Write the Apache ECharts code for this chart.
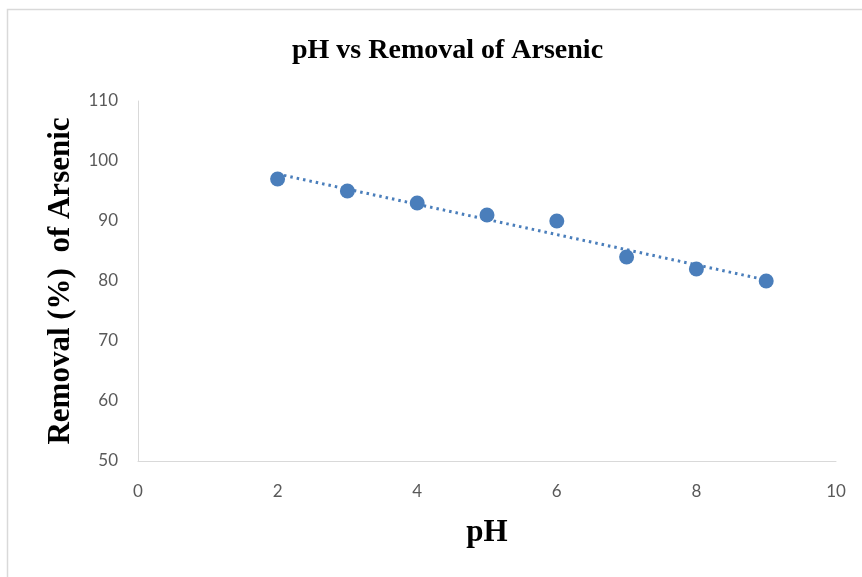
<!DOCTYPE html>
<html>
<head>
<meta charset="utf-8">
<script src="https://cdn.jsdelivr.net/npm/echarts@6/dist/echarts.min.js"></script>
<style>html,body{margin:0;padding:0;background:#fff}#c{width:862px;height:577px}</style>
</head>
<body>
<div id="c"></div>
<script>
const pH = [2, 3, 4, 5, 6, 7, 8, 9];
const removal = [97, 95, 93, 91, 90, 84, 82, 80];
const xTicks = [0, 2, 4, 6, 8, 10];
const yTicks = [50, 60, 70, 80, 90, 100, 110];

// linear trendline (least squares) from the data
const n = pH.length;
const mx = pH.reduce((a, b) => a + b, 0) / n;
const my = removal.reduce((a, b) => a + b, 0) / n;
let sxy = 0, sxx = 0;
for (let i = 0; i < n; i++) { sxy += (pH[i] - mx) * (removal[i] - my); sxx += (pH[i] - mx) ** 2; }
const slope = sxy / sxx, icpt = my - slope * mx;
const xs = [pH[0], pH[n - 1]];
const trend = xs.map(x => [x, icpt + slope * x]);

const chart = echarts.init(document.getElementById('c'));
chart.setOption({
  animation: false,
  graphic: [{ type: 'rect', shape: { x: 7.5, y: 9.5, width: 900, height: 600 }, style: { fill: 'none', stroke: '#d9d9d9', lineWidth: 1.5 }, silent: true }],
  title: {
    text: 'pH vs Removal of Arsenic', left: 287, top: 32,
    textStyle: { fontFamily: 'Liberation Serif', fontWeight: 'bold', fontSize: 28, color: '#000' }
  },
  grid: { left: 138, right: 26, top: 101, bottom: 116 },
  xAxis: {
    type: 'value', min: xTicks[0], max: xTicks[xTicks.length - 1], interval: 2,
    name: 'pH', nameLocation: 'middle', nameGap: 56,
    nameTextStyle: { fontFamily: 'Liberation Serif', fontWeight: 'bold', fontSize: 31, color: '#000' },
    axisLine: { lineStyle: { color: '#d9d9d9', width: 1 } },
    axisTick: { show: false }, splitLine: { show: false },
    axisLabel: { color: '#595959', fontSize: 17, fontFamily: 'Lato', margin: 22 }
  },
  yAxis: {
    type: 'value', min: yTicks[0], max: yTicks[yTicks.length - 1], interval: 10,
    name: 'Removal (%)  of Arsenic', nameLocation: 'middle', nameGap: 62, nameRotate: 90,
    nameTextStyle: { fontFamily: 'Liberation Serif', fontWeight: 'bold', fontSize: 31, color: '#000' },
    axisLine: { show: true, lineStyle: { color: '#d9d9d9', width: 1 } },
    axisTick: { show: false }, splitLine: { show: false },
    axisLabel: { color: '#595959', fontSize: 17, fontFamily: 'Lato', margin: 20 }
  },
  series: [
    {
      type: 'line', data: trend, showSymbol: false, symbol: 'none',
      lineStyle: { color: '#4a7ebb', width: 3, type: [2.5, 4] }, z: 1
    },
    {
      type: 'scatter', data: pH.map((x, i) => [x, removal[i]]),
      symbol: 'circle', symbolSize: 15, itemStyle: { color: '#4a7ebb', opacity: 1 }, z: 2
    }
  ]
});
</script>
</body>
</html>
